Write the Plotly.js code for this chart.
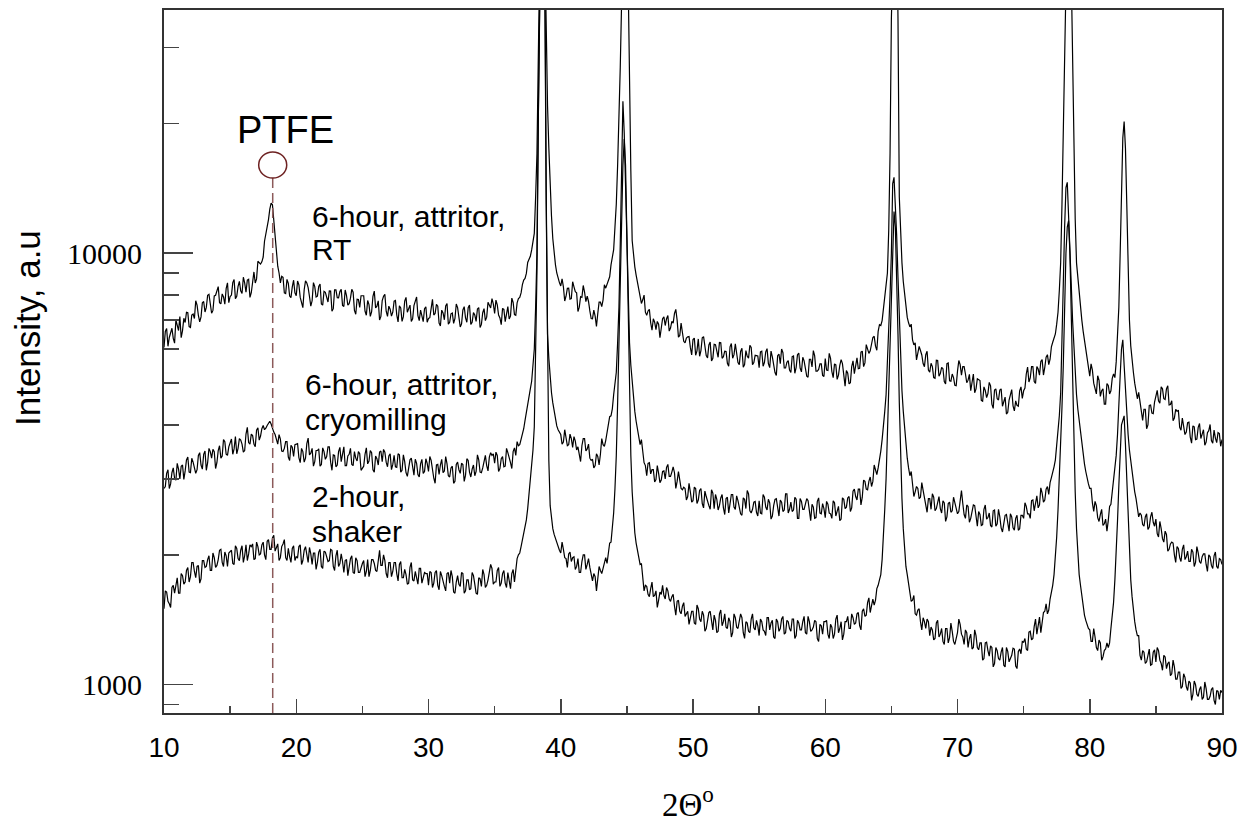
<!DOCTYPE html>
<html>
<head>
<meta charset="utf-8">
<script src="https://cdn.plot.ly/plotly-3.0.1.min.js"></script>
<style>html,body{margin:0;padding:0;background:#fff;}#chart{width:1256px;height:823px;}</style>
</head>
<body>
<div id="chart"></div>
<script>
// 2-theta scan: 10.0 to 90.0 degrees, step 0.1 degrees (801 points)
const twoThetaStart = 10.0;
const twoThetaStep = 0.1;
const twoThetaCount = 801;

// 6-hour, attritor, RT  (counts), one row per 5 degrees
const rtCounts = [
  6050, 6590, 6690, 6085, 6380, 6600, 6700, 6350, 6190, 7010, 6770, 6620, 7130, 6370, 6620, 7070, 6910, 7300, 7280, 6760, 6730, 7190, 7230, 7060, 7760, 7580, 7180, 6930, 7120, 7680, 7730, 7310, 7490, 7990, 8030, 7685, 7260, 7370, 7960, 7990, 8180, 8370, 7680, 7630, 8050, 7920, 7620, 8280, 8540, 7680,
  7940, 8000, 8550, 8690, 7850, 7950, 8380, 8610, 8180, 8070, 8800, 8540, 8120, 8660, 8700, 7900, 8100, 8750, 9050, 8530, 8720, 9580, 9530, 9440, 9550, 9800, 10660, 11080, 11290, 11970, 12650, 13060, 12950, 11800, 10680, 9900, 9330, 9000, 8540, 8840, 8790, 8090, 8060, 8700, 8520, 7960, 7890, 8360, 8660, 8100,
  7970, 8620, 8450, 7900, 7680, 7480, 8230, 8630, 8530, 8320, 7940, 7540, 7760, 8550, 8370, 7920, 7950, 8380, 8480, 7630, 7580, 8160, 8120, 7840, 7710, 8180, 8170, 7340, 7440, 8220, 8220, 7890, 7880, 8150, 8250, 7570, 7530, 8220, 7980, 7580, 7640, 7870, 8250, 8120, 7370, 7220, 7820, 7810, 7490, 7970,
  7980, 7970, 7340, 7180, 7770, 7600, 7140, 7320, 7950, 8170, 7470, 7540, 7760, 7000, 7140, 7770, 7950, 8030, 7340, 7140, 7540, 7420, 7150, 7300, 7740, 7770, 7200, 6930, 7550, 7470, 6950, 7130, 7750, 7900, 7300, 7440, 7580, 6950, 7050, 7560, 7770, 7920, 7170, 6980, 7380, 7090, 6940, 7440, 7510, 6920,
  7060, 7090, 7560, 7820, 7190, 7250, 7610, 7540, 6890, 6780, 7380, 7270, 7010, 7550, 7650, 6850, 6920, 7240, 7270, 6880, 7060, 7630, 7480, 7040, 6750, 6860, 7390, 7520, 7080, 6920, 7480, 7590, 6840, 6920, 7290, 7190, 6950, 7430, 7480, 6730, 6840, 7280, 7440, 6980, 7110, 7700, 7550, 7470, 7850, 7630,
  7250, 7790, 7590, 7190, 7080, 6830, 7450, 7410, 6940, 7300, 7520, 7040, 7150, 7870, 7690, 7210, 7180, 7670, 7850, 7900, 8090, 8460, 8670, 8740, 8980, 9520, 9690, 9840, 10180, 10650, 11120, 13500, 17000, 28000, 45000, 80000, 120000, 80000, 50000, 34000, 22000, 17500, 14000, 12200, 10800, 10000, 9400, 9000, 8700, 8550,
  8400, 8720, 8360, 7750, 7950, 8290, 8300, 7830, 7850, 8590, 8360, 8150, 8100, 7330, 7500, 7930, 7900, 8420, 8130, 7720, 7950, 7730, 7350, 7060, 7050, 7380, 7150, 6770, 7250, 7700, 7700, 7520, 7800, 8450, 8300, 8450, 8600, 8820, 9400, 9890, 10190, 11500, 13000, 16000, 20000, 27000, 38000, 60000, 90000, 88000,
  70000, 40000, 25000, 15500, 10700, 9900, 9300, 8900, 8530, 8200, 7970, 7650, 7800, 8000, 7300, 7180, 7350, 7410, 6900, 6630, 7050, 6920, 6650, 6950, 6850, 6370, 6700, 7050, 7120, 6800, 7050, 7170, 6600, 6710, 6950, 6890, 7250, 7410, 7000, 6390, 6450, 6890, 6550, 6250, 6200, 6360, 6400, 6410, 6050, 5810,
  6310, 6360, 5800, 5940, 6330, 5770, 5950, 6370, 6410, 6160, 5790, 5720, 6130, 6230, 5630, 5710, 6150, 6140, 5880, 5740, 6210, 6200, 5710, 5760, 5930, 5920, 5560, 5470, 6070, 6180, 5710, 5820, 6170, 5930, 5580, 5520, 5920, 6020, 5440, 5520, 5950, 5770, 5710, 6120, 6050, 5520, 5580, 5800, 5800, 5780,
  5430, 5910, 5930, 5470, 5580, 5910, 6010, 5550, 5430, 5930, 5750, 5460, 5290, 5210, 5790, 5840, 5550, 6000, 5880, 5420, 5420, 5590, 5640, 5360, 5290, 5760, 5780, 5270, 5440, 5820, 5870, 5420, 5310, 5740, 5630, 5410, 5190, 5160, 5680, 5680, 5450, 5950, 5780, 5330, 5330, 5380, 5540, 5540, 5210, 5180,
  5700, 5360, 5350, 5860, 5710, 5320, 5150, 5540, 5510, 5100, 5220, 5500, 5670, 5550, 5110, 4920, 5350, 5270, 4980, 5010, 5460, 5630, 5260, 5440, 5720, 5400, 5410, 5900, 5930, 5460, 5570, 6140, 6020, 5860, 5940, 6220, 6380, 6420, 6090, 5960, 6590, 6830, 6800, 6980, 7450, 7700, 8220, 9000, 11300, 17000,
  35000, 65000, 80000, 80000, 60000, 35000, 13500, 11000, 9500, 8600, 8000, 7500, 7100, 6900, 6750, 6850, 6300, 6130, 6200, 5660, 5850, 6080, 5950, 5810, 5550, 5460, 5820, 5930, 5360, 5300, 5560, 5460, 5150, 5130, 5650, 5640, 5190, 5260, 5440, 5400, 5040, 4980, 5550, 5570, 5060, 5050, 5250, 5150, 4940, 4930,
  5330, 5640, 5520, 5220, 5460, 5460, 5250, 5010, 5080, 5240, 4800, 4970, 5250, 4750, 4850, 5120, 5100, 5070, 4560, 4540, 4900, 4810, 4630, 4730, 5020, 4930, 4470, 4370, 4820, 4850, 4600, 4570, 4820, 4850, 4420, 4530, 4640, 4240, 4280, 4570, 4690, 4830, 4430, 4310, 4550, 4440, 4420, 4800, 4900, 4610,
  4800, 4870, 5250, 5450, 5030, 5140, 5460, 5460, 5040, 4990, 5460, 5390, 5220, 5610, 5670, 5220, 5440, 5740, 5820, 5520, 5680, 6070, 6220, 6350, 6500, 6850, 7300, 8200, 9500, 13000, 20000, 30000, 45000, 70000, 90000, 70000, 45000, 28000, 17000, 12000, 9500, 8700, 8000, 7500, 7000, 6600, 6300, 5900, 5600, 5400,
  5190, 5540, 5360, 5000, 4850, 4720, 5200, 5080, 4660, 4800, 4850, 4470, 4470, 4990, 4940, 4720, 4800, 5130, 5250, 5150, 5600, 6300, 7500, 10000, 14000, 18500, 20200, 17500, 13000, 9500, 7000, 6100, 5600, 5300, 5000, 4800, 4600, 4760, 4550, 4280, 4100, 4350, 4350, 3920, 4000, 4440, 4450, 4260, 4250, 4520,
  4700, 4810, 4550, 4490, 4900, 4850, 4600, 4580, 4850, 4930, 4450, 4460, 4550, 4090, 4150, 4350, 4300, 4330, 3950, 3890, 4150, 4010, 3800, 3850, 4050, 4060, 3750, 3630, 3980, 3960, 3700, 3710, 3950, 4030, 3720, 3810, 3900, 3590, 3650, 3840, 3880, 4010, 3680, 3630, 3890, 3730, 3640, 3840, 3820, 3570,
  3700
];

// 6-hour, attritor, cryomilling  (counts)
const cryoCounts = [
  2850, 2880, 3090, 3150, 2850, 2920, 3100, 3180, 3010, 2980, 3260, 3160, 3000, 3210, 3230, 2990, 3130, 3320, 3370, 3110, 3100, 3350, 3280, 3150, 3090, 3150, 3400, 3450, 3230, 3160, 3420, 3480, 3140, 3270, 3530, 3470, 3350, 3510, 3470, 3170, 3270, 3490, 3580, 3350, 3390, 3700, 3660, 3420, 3400, 3560,
  3650, 3710, 3420, 3520, 3760, 3430, 3530, 3720, 3690, 3610, 3460, 3490, 3810, 3950, 3640, 3610, 3810, 3780, 3610, 3560, 3890, 3940, 3690, 3770, 3920, 3990, 3900, 3930, 3990, 4050, 4080, 4020, 3920, 3850, 3800, 3720, 3610, 3800, 3710, 3480, 3470, 3530, 3660, 3660, 3370, 3310, 3590, 3550, 3380, 3600,
  3610, 3620, 3360, 3270, 3530, 3470, 3280, 3350, 3620, 3730, 3410, 3440, 3530, 3210, 3290, 3490, 3490, 3520, 3210, 3240, 3540, 3470, 3330, 3380, 3560, 3560, 3280, 3140, 3410, 3400, 3200, 3230, 3470, 3550, 3290, 3425, 3560, 3220, 3220, 3390, 3420, 3530, 3240, 3220, 3470, 3350, 3300, 3470, 3430, 3140,
  3190, 3210, 3420, 3540, 3250, 3300, 3490, 3450, 3150, 3110, 3390, 3340, 3230, 3460, 3480, 3290, 3510, 3460, 3280, 3200, 3390, 3430, 3150, 3240, 3400, 3200, 3190, 3430, 3410, 3110, 3140, 3410, 3290, 3100, 3040, 3210, 3320, 3350, 3180, 3060, 3330, 3260, 3070, 3030, 3250, 3330, 3090, 3120, 3340, 3260,
  3120, 3380, 3310, 3100, 3010, 2930, 3230, 3240, 3070, 3230, 3330, 3100, 3130, 3380, 3250, 3050, 3030, 3180, 3210, 2930, 2960, 3240, 3280, 3150, 3090, 3260, 3240, 2960, 3060, 3340, 3310, 3110, 3030, 3160, 3230, 3050, 3120, 3410, 3320, 3110, 3100, 3180, 3320, 3400, 3220, 3130, 3370, 3450, 3400, 3430,
  3260, 3460, 3400, 3120, 3170, 3340, 3380, 3200, 3210, 3530, 3450, 3330, 3270, 3170, 3470, 3540, 3400, 3660, 3580, 3600, 3700, 3810, 3920, 4100, 4300, 4480, 4650, 4850, 5050, 5450, 6000, 7500, 10000, 20000, 40000, 80000, 110000, 75000, 45000, 14000, 6500, 5700, 5100, 4750, 4500, 4280, 4100, 3980, 3900, 3850,
  3800, 3610, 3650, 3900, 3700, 3580, 3600, 3810, 3720, 3550, 3760, 3670, 3500, 3560, 3420, 3290, 3580, 3720, 3720, 3480, 3520, 3610, 3350, 3310, 3330, 3180, 3220, 3430, 3380, 3230, 3420, 3720, 3600, 3570, 3680, 3840, 3920, 4180, 4200, 4360, 4700, 4950, 5300, 6200, 7500, 10500, 16000, 22500, 19000, 14000,
  10000, 7600, 6200, 5500, 5000, 4600, 4300, 4080, 3900, 3740, 3600, 3700, 3450, 3270, 3220, 3050, 3260, 3270, 3080, 3150, 3150, 2950, 2990, 3220, 3090, 2940, 2980, 3120, 3130, 3000, 3190, 3240, 3040, 3040, 3110, 3200, 3100, 2850, 2960, 3120, 2980, 2850, 2830, 2870, 2850, 2680, 2730, 2930, 2800, 2650,
  2670, 2870, 2850, 2630, 2680, 2820, 2850, 2630, 2570, 2810, 2730, 2640, 2600, 2550, 2830, 2780, 2560, 2760, 2690, 2540, 2600, 2710, 2760, 2570, 2480, 2700, 2720, 2500, 2600, 2760, 2760, 2580, 2550, 2740, 2670, 2580, 2490, 2470, 2710, 2690, 2560, 2820, 2770, 2530, 2500, 2550, 2650, 2660, 2510, 2460,
  2670, 2500, 2490, 2760, 2720, 2580, 2540, 2690, 2640, 2420, 2460, 2600, 2690, 2700, 2560, 2460, 2680, 2650, 2520, 2540, 2770, 2770, 2500, 2550, 2650, 2520, 2540, 2720, 2690, 2430, 2430, 2700, 2660, 2550, 2550, 2650, 2700, 2670, 2490, 2400, 2620, 2580, 2430, 2440, 2660, 2710, 2500, 2490, 2630, 2560,
  2440, 2660, 2620, 2500, 2490, 2430, 2670, 2640, 2460, 2550, 2590, 2400, 2420, 2710, 2690, 2560, 2580, 2710, 2730, 2520, 2570, 2810, 2840, 2730, 2680, 2840, 2840, 2610, 2720, 2980, 2960, 2840, 2830, 2960, 3030, 2880, 2960, 3230, 3140, 3070, 3180, 3300, 3480, 3700, 3950, 4300, 4700, 5500, 6500, 8000,
  10000, 14500, 15000, 13000, 11000, 8800, 7000, 5800, 4800, 4300, 3900, 3600, 3350, 3180, 3050, 3120, 2950, 2730, 2800, 2880, 2850, 2700, 2720, 2940, 2820, 2700, 2640, 2510, 2700, 2700, 2550, 2770, 2720, 2530, 2560, 2670, 2730, 2560, 2500, 2670, 2640, 2390, 2450, 2630, 2650, 2510, 2530, 2720, 2650, 2570,
  2490, 2520, 2700, 2820, 2630, 2480, 2430, 2610, 2590, 2380, 2430, 2550, 2610, 2600, 2430, 2330, 2520, 2480, 2340, 2350, 2550, 2610, 2420, 2440, 2500, 2340, 2320, 2530, 2540, 2330, 2360, 2550, 2450, 2310, 2260, 2390, 2470, 2480, 2340, 2270, 2490, 2450, 2310, 2280, 2430, 2470, 2280, 2300, 2470, 2470,
  2430, 2640, 2590, 2490, 2490, 2430, 2670, 2680, 2530, 2660, 2740, 2570, 2610, 2860, 2780, 2650, 2680, 2840, 2880, 2760, 2940, 3020, 3100, 3200, 3320, 3550, 3830, 4200, 4740, 6000, 8500, 11500, 14200, 14600, 12500, 10500, 8500, 7000, 6000, 5200, 4700, 4350, 4100, 3850, 3600, 3400, 3250, 3120, 3000, 2920,
  2850, 2850, 2640, 2520, 2660, 2600, 2440, 2390, 2480, 2550, 2340, 2360, 2420, 2270, 2400, 2590, 2620, 2790, 2900, 3130, 3400, 3800, 4300, 5200, 6000, 6300, 5500, 4800, 4200, 3800, 3500, 3280, 3100, 2950, 2800, 2700, 2600, 2450, 2500, 2470, 2350, 2330, 2450, 2490, 2290, 2320, 2450, 2510, 2380, 2330,
  2420, 2240, 2200, 2390, 2300, 2180, 2140, 2270, 2230, 2040, 2060, 2120, 2140, 2130, 2000, 1920, 2090, 2070, 1970, 1930, 2060, 2110, 1950, 1980, 2040, 1930, 1930, 2060, 2030, 1880, 1920, 2090, 2020, 1930, 1910, 1980, 2010, 2010, 1900, 1830, 2000, 1980, 1890, 1860, 1990, 2030, 1880, 1860, 1960, 1950,
  1900
];

// 2-hour, shaker  (counts)
const shakerCounts = [
  1500, 1650, 1640, 1560, 1540, 1510, 1680, 1700, 1630, 1720, 1770, 1630, 1630, 1810, 1790, 1710, 1730, 1840, 1870, 1730, 1780, 1920, 1920, 1830, 1770, 1880, 1890, 1720, 1760, 1940, 1940, 1870, 1880, 1950, 1990, 1840, 1840, 2020, 1970, 1870, 1890, 1950, 2050, 2060, 1920, 1880, 2030, 1990, 1880, 2020,
  2040, 2050, 1910, 1900, 2100, 2070, 1960, 1940, 2050, 2100, 1920, 1990, 2110, 1940, 2010, 2110, 2090, 2120, 1950, 1960, 2140, 2090, 2000, 2010, 2110, 2140, 2000, 1950, 2150, 2170, 2060, 2060, 2190, 2220, 2040, 2080, 2120, 1940, 1970, 2090, 2120, 2170, 1970, 1940, 2070, 1980, 1920, 2070, 2100, 1940,
  1980, 1970, 2090, 2110, 1900, 1940, 2050, 2090, 1970, 1920, 2080, 2010, 1900, 2020, 2020, 1850, 1920, 2030, 2060, 1880, 1860, 2040, 2030, 1960, 1930, 1940, 2060, 2050, 1880, 1840, 1990, 2050, 1880, 1910, 2010, 1930, 1820, 1940, 1950, 1790, 1860, 1960, 1990, 1820, 1810, 1970, 1940, 1820, 1820, 1880,
  1910, 1940, 1780, 1830, 1950, 1780, 1840, 1950, 1950, 1910, 1840, 1830, 1980, 2050, 1890, 1890, 2000, 1940, 1810, 1770, 1920, 1920, 1780, 1830, 1920, 1920, 1810, 1740, 1900, 1930, 1770, 1770, 1850, 1800, 1710, 1720, 1870, 1920, 1750, 1740, 1830, 1750, 1710, 1860, 1860, 1720, 1760, 1820, 1810, 1810,
  1700, 1830, 1820, 1680, 1720, 1820, 1840, 1700, 1660, 1830, 1790, 1720, 1690, 1650, 1810, 1820, 1720, 1840, 1780, 1640, 1630, 1730, 1790, 1710, 1690, 1820, 1810, 1630, 1650, 1750, 1750, 1660, 1670, 1820, 1790, 1710, 1630, 1620, 1770, 1760, 1690, 1850, 1800, 1680, 1700, 1750, 1830, 1900, 1860, 1710,
  1730, 1730, 1840, 1870, 1690, 1720, 1810, 1840, 1720, 1680, 1820, 1760, 1670, 1810, 1850, 1730, 1840, 1960, 2000, 2020, 2090, 2160, 2230, 2320, 2410, 2560, 2750, 2950, 3200, 3500, 3960, 5500, 9000, 20000, 45000, 90000, 120000, 80000, 40000, 13000, 5500, 3300, 2600, 2420, 2300, 2230, 2180, 2130, 2080, 2050,
  2020, 2140, 2060, 1970, 1960, 1870, 2010, 2030, 1930, 1970, 1980, 1850, 1880, 1960, 1820, 1820, 1930, 2000, 2000, 1850, 1900, 1960, 1870, 1790, 1740, 1810, 1780, 1650, 1740, 1880, 1840, 1810, 1860, 1930, 1970, 1910, 2000, 2130, 2140, 2300, 2500, 2850, 3400, 4500, 6500, 9000, 13000, 16000, 18400, 16000,
  11000, 7000, 4500, 3400, 2800, 2480, 2250, 2130, 2050, 1970, 1900, 1910, 1780, 1650, 1700, 1690, 1620, 1600, 1670, 1730, 1600, 1610, 1650, 1510, 1570, 1640, 1620, 1700, 1610, 1580, 1680, 1650, 1580, 1560, 1600, 1620, 1520, 1450, 1560, 1570, 1480, 1460, 1520, 1550, 1440, 1460, 1480, 1380, 1420, 1480,
  1480, 1390, 1380, 1530, 1500, 1420, 1400, 1480, 1450, 1330, 1350, 1420, 1470, 1480, 1400, 1340, 1450, 1410, 1320, 1330, 1460, 1490, 1370, 1400, 1460, 1360, 1350, 1430, 1400, 1290, 1320, 1460, 1430, 1360, 1350, 1420, 1460, 1430, 1320, 1280, 1400, 1390, 1330, 1320, 1420, 1460, 1355, 1340, 1410, 1370,
  1300, 1420, 1400, 1340, 1330, 1300, 1430, 1430, 1340, 1390, 1410, 1290, 1280, 1420, 1400, 1330, 1350, 1420, 1440, 1310, 1320, 1410, 1400, 1350, 1330, 1420, 1420, 1280, 1300, 1410, 1390, 1340, 1340, 1400, 1440, 1320, 1310, 1440, 1400, 1330, 1340, 1360, 1410, 1400, 1280, 1260, 1380, 1370, 1310, 1400,
  1400, 1410, 1310, 1280, 1380, 1360, 1280, 1310, 1420, 1450, 1320, 1350, 1400, 1270, 1310, 1400, 1400, 1440, 1350, 1350, 1460, 1430, 1380, 1390, 1460, 1470, 1370, 1340, 1480, 1500, 1440, 1450, 1550, 1590, 1470, 1525, 1580, 1530, 1570, 1670, 1700, 1750, 1800, 1950, 2200, 2550, 3000, 3800, 5000, 6600,
  8500, 11000, 12500, 11500, 9000, 6500, 4500, 3400, 2700, 2300, 2000, 1880, 1800, 1720, 1650, 1560, 1570, 1610, 1460, 1450, 1490, 1500, 1400, 1340, 1430, 1400, 1350, 1420, 1400, 1300, 1360, 1340, 1270, 1280, 1390, 1410, 1290, 1310, 1350, 1260, 1240, 1350, 1350, 1250, 1285, 1390, 1330, 1260, 1240, 1290,
  1320, 1420, 1380, 1310, 1290, 1240, 1340, 1320, 1220, 1280, 1310, 1210, 1220, 1340, 1300, 1220, 1205, 1250, 1250, 1140, 1150, 1250, 1255, 1200, 1165, 1230, 1220, 1100, 1120, 1220, 1200, 1150, 1140, 1190, 1220, 1110, 1100, 1220, 1195, 1130, 1145, 1170, 1215, 1210, 1105, 1090, 1195, 1210, 1180, 1260,
  1255, 1280, 1210, 1200, 1325, 1330, 1270, 1280, 1365, 1420, 1310, 1360, 1435, 1320, 1380, 1470, 1480, 1540, 1460, 1490, 1580, 1630, 1700, 1800, 1950, 2200, 2540, 3000, 3630, 4400, 5500, 7600, 10000, 11500, 11900, 10000, 7000, 5000, 3800, 2800, 2300, 2000, 1800, 1700, 1600, 1520, 1450, 1410, 1370, 1350,
  1340, 1260, 1260, 1350, 1290, 1220, 1200, 1270, 1250, 1140, 1160, 1200, 1210, 1250, 1220, 1250, 1350, 1450, 1550, 1750, 2000, 2400, 2900, 3500, 4000, 4100, 4200, 3600, 3000, 2400, 2000, 1750, 1600, 1480, 1400, 1340, 1300, 1300, 1170, 1140, 1200, 1190, 1120, 1130, 1180, 1210, 1110, 1115, 1190, 1205,
  1130, 1220, 1200, 1140, 1120, 1080, 1170, 1160, 1090, 1120, 1130, 1050, 1060, 1140, 1100, 1030, 1030, 1070, 1070, 980, 990, 1060, 1040, 990, 970, 1020, 1010, 920, 950, 1020, 1000, 950, 940, 975, 990, 925, 935, 1015, 980, 925, 925, 940, 975, 985, 920, 900, 970, 965, 925, 970,
  960
];

// Axis ticks
const xTickVals = [10, 20, 30, 40, 50, 60, 70, 80, 90];
const xTickText = ['10', '20', '30', '40', '50', '60', '70', '80', '90'];
const xMinorVals = [15, 25, 35, 45, 55, 65, 75, 85];
const yTickVals = [1000, 10000];
const yTickText = ['1000', '10000'];
const yMinorVals = [900, 2000, 3000, 4000, 5000, 6000, 7000, 8000, 9000, 20000, 30000];

// PTFE reference peak position (2-theta, degrees)
const ptfePeak = 18.22;

const twoTheta = [];
for (let i = 0; i < twoThetaCount; i++) twoTheta.push(+(twoThetaStart + i * twoThetaStep).toFixed(1));

const lineStyle = {color: '#000000', width: 1.2};
const traces = [
  {x: twoTheta, y: rtCounts, type: 'scatter', mode: 'lines', line: lineStyle, name: '6-hour, attritor, RT'},
  {x: twoTheta, y: cryoCounts, type: 'scatter', mode: 'lines', line: lineStyle, name: '6-hour, attritor, cryomilling'},
  {x: twoTheta, y: shakerCounts, type: 'scatter', mode: 'lines', line: lineStyle, name: '2-hour, shaker'}
];

const sans = 'Liberation Sans, Arial, sans-serif';
const serif = 'Liberation Serif, Times New Roman, serif';

function label(text, x, y, size) {
  return {text: text, x: x, y: y, xref: 'paper', yref: 'paper', xanchor: 'left', yanchor: 'middle',
          showarrow: false, font: {family: sans, size: size, color: '#000'}};
}

const layout = {
  width: 1256, height: 823,
  margin: {l: 164, r: 34, t: 10, b: 110},
  paper_bgcolor: '#ffffff', plot_bgcolor: '#ffffff',
  showlegend: false,
  xaxis: {
    range: [10, 90], showgrid: false, zeroline: false,
    showline: true, linecolor: '#333', linewidth: 2, mirror: true,
    ticks: 'inside', tickmode: 'array', tickvals: xTickVals, ticktext: xTickText,
    ticklen: 14, tickwidth: 1.5, tickcolor: '#444',
    minor: {tickmode: 'array', tickvals: xMinorVals, ticks: 'inside', ticklen: 7, tickwidth: 1.5, tickcolor: '#444', showgrid: false},
    tickfont: {family: sans, size: 28, color: '#000'},
    ticklabelstandoff: 8
  },
  yaxis: {
    type: 'log', range: [Math.log10(860), Math.log10(36620)],
    showgrid: false, zeroline: false,
    showline: true, linecolor: '#333', linewidth: 2, mirror: true,
    ticks: 'inside', tickmode: 'array', tickvals: yTickVals, ticktext: yTickText,
    ticklen: 29, tickwidth: 1.5, tickcolor: '#444',
    minor: {tickmode: 'array', tickvals: yMinorVals, ticks: 'inside', ticklen: 15, tickwidth: 1.5, tickcolor: '#444', showgrid: false},
    tickfont: {family: serif, size: 30, color: '#000'},
    ticklabelstandoff: 14
  },
  shapes: [
    {type: 'line', xref: 'x', yref: 'paper', x0: ptfePeak, x1: ptfePeak, y0: 0, y1: 0.761,
     line: {color: '#8c5a5a', width: 1.5, dash: '10px,5px'}},
    {type: 'circle', xref: 'x', yref: 'paper', x0: ptfePeak - 1.06, x1: ptfePeak + 1.06, y0: 0.761, y1: 0.798,
     line: {color: '#6e2222', width: 1.5}, fillcolor: 'rgba(0,0,0,0)'}
  ],
  annotations: [
    label('PTFE', 0.0671, 0.8293, 38),
    label('6-hour, attritor,', 0.138, 0.7063, 30),
    label('RT', 0.138, 0.6593, 30),
    label('6-hour, attritor,', 0.1314, 0.4673, 30),
    label('cryomilling', 0.1314, 0.4175, 30),
    label('2-hour,', 0.138, 0.308, 30),
    label('shaker', 0.138, 0.2582, 30),
    {text: 'Intensity, a.u', x: -0.1285, y: 0.5477, xref: 'paper', yref: 'paper', xanchor: 'center', yanchor: 'middle',
     textangle: -90, showarrow: false, font: {family: sans, size: 35, color: '#000'}},
    {text: '2\u0398<sup>o</sup>', x: 0.4953, y: -0.127, xref: 'paper', yref: 'paper', xanchor: 'center', yanchor: 'middle',
     showarrow: false, font: {family: serif, size: 33, color: '#000'}}
  ]
};

if (rtCounts.length !== twoThetaCount || cryoCounts.length !== twoThetaCount || shakerCounts.length !== twoThetaCount) {
  layout.annotations.push({text: 'LEN ' + rtCounts.length + ' ' + cryoCounts.length + ' ' + shakerCounts.length,
    x: 0.5, y: 0.95, xref: 'paper', yref: 'paper', showarrow: false, font: {size: 24, color: 'red'}});
}

Plotly.newPlot('chart', traces, layout, {displayModeBar: false, staticPlot: true});
</script>
</body>
</html>
